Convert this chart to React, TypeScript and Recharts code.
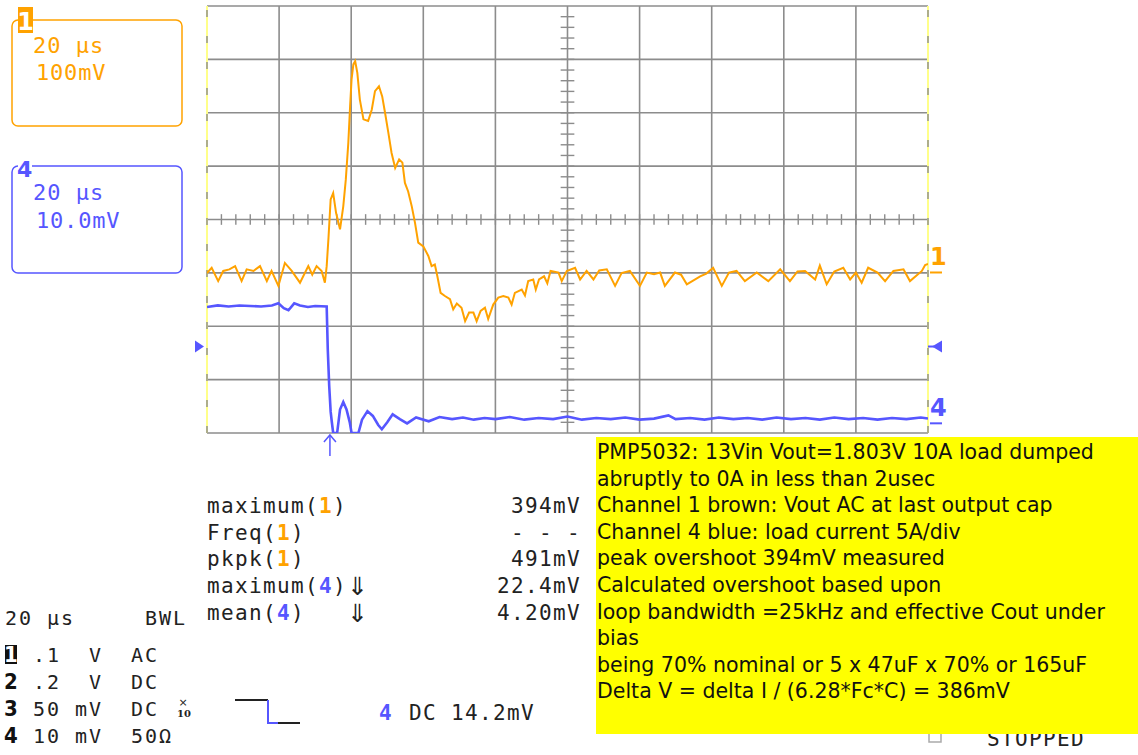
import React from 'react';
import { LineChart, Line, XAxis, YAxis, ReferenceLine, ReferenceDot } from 'recharts';

// time base 20 µs/div, 10 divisions across; 8 divisions high
const majorTimes = [20, 40, 60, 80, 100, 120, 140, 160, 180];
const majorDivs = [-4, -3, -2, -1, 0, 1, 2, 3, 4];
const minorTimes = Array.from({ length: 49 }, (_, i) => (i + 1) * 4);
const minorDivs = Array.from({ length: 39 }, (_, i) => -3.8 + i * 0.2);

// channel 1 (Vout AC), mV, 100 mV/div; screen centre sits 97.4 mV above its zero marker
const ch1Center = 97.4;
const ch1PerDiv = 100;
const ch1Trace = [
  { t: 0, mv: -3 }, { t: 1.3, mv: 7 }, { t: 3.1, mv: -18 }, { t: 4.5, mv: 1 }, { t: 6.2, mv: 4 },
  { t: 7.8, mv: 10 }, { t: 9.6, mv: -18 }, { t: 11.0, mv: 4 }, { t: 12.9, mv: 1 }, { t: 14.7, mv: 10 },
  { t: 16.6, mv: -18 }, { t: 17.9, mv: 1 }, { t: 19.8, mv: -27 }, { t: 21.6, mv: 16 }, { t: 23.5, mv: 1 },
  { t: 25.8, mv: -21 }, { t: 28.1, mv: 10 }, { t: 29.2, mv: -6 }, { t: 30.4, mv: 10 }, { t: 31.8, mv: 1 },
  { t: 32.7, mv: -21 }, { t: 33.2, mv: 10 }, { t: 33.7, mv: 63 }, { t: 34.3, mv: 135 }, { t: 35.0, mv: 147 },
  { t: 35.8, mv: 110 }, { t: 36.9, mv: 79 }, { t: 37.8, mv: 122 }, { t: 38.5, mv: 172 }, { t: 39.2, mv: 241 },
  { t: 39.7, mv: 310 }, { t: 40.1, mv: 360 }, { t: 40.6, mv: 388 }, { t: 41.1, mv: 394 }, { t: 41.7, mv: 372 },
  { t: 42.4, mv: 322 }, { t: 43.4, mv: 285 }, { t: 44.7, mv: 282 }, { t: 45.7, mv: 303 }, { t: 46.6, mv: 338 },
  { t: 47.7, mv: 347 }, { t: 48.6, mv: 328 }, { t: 49.4, mv: 297 }, { t: 50.3, mv: 260 }, { t: 51.2, mv: 222 },
  { t: 52.2, mv: 194 }, { t: 53.3, mv: 210 }, { t: 54.2, mv: 204 }, { t: 54.9, mv: 166 }, { t: 55.8, mv: 150 },
  { t: 56.8, mv: 122 }, { t: 57.7, mv: 91 }, { t: 58.6, mv: 54 }, { t: 60.0, mv: 47 }, { t: 61.4, mv: 29 },
  { t: 62.3, mv: 10 }, { t: 63.2, mv: 13 }, { t: 63.9, mv: -9 }, { t: 64.8, mv: -40 }, { t: 66.0, mv: -46 },
  { t: 67.4, mv: -52 }, { t: 68.3, mv: -71 }, { t: 69.3, mv: -60 }, { t: 70.6, mv: -68 }, { t: 71.6, mv: -93 },
  { t: 72.7, mv: -77 }, { t: 73.9, mv: -77 }, { t: 74.8, mv: -93 }, { t: 75.9, mv: -74 }, { t: 77.1, mv: -68 },
  { t: 78.0, mv: -89 }, { t: 79.4, mv: -62 }, { t: 80.8, mv: -49 }, { t: 82.2, mv: -46 }, { t: 83.6, mv: -49 },
  { t: 84.5, mv: -62 }, { t: 85.4, mv: -40 }, { t: 87.3, mv: -34 }, { t: 88.2, mv: -45 }, { t: 89.1, mv: -18 },
  { t: 90.5, mv: -15 }, { t: 91.2, mv: -34 }, { t: 92.1, mv: -15 }, { t: 93.5, mv: -9 }, { t: 94.4, mv: -22 },
  { t: 95.3, mv: 1 }, { t: 97.5, mv: -2 }, { t: 98.4, mv: -18 }, { t: 99.8, mv: 1 }, { t: 102.1, mv: 7 },
  { t: 103.5, mv: -15 }, { t: 105.3, mv: 1 }, { t: 107.2, mv: -15 }, { t: 108.8, mv: 2 }, { t: 110.9, mv: 4 },
  { t: 113.2, mv: -27 }, { t: 115.0, mv: -3 }, { t: 117.3, mv: 1 }, { t: 120.1, mv: -27 }, { t: 122.0, mv: -2 },
  { t: 124.0, mv: -5 }, { t: 125.7, mv: -2 }, { t: 127.0, mv: -27 }, { t: 129.8, mv: -2 }, { t: 131.5, mv: -6 },
  { t: 133.1, mv: -24 }, { t: 136.8, mv: -9 }, { t: 138.5, mv: -4 }, { t: 140.4, mv: 7 }, { t: 142.8, mv: -27 },
  { t: 144.8, mv: -2 }, { t: 146.9, mv: 1 }, { t: 149.2, mv: -18 }, { t: 152.5, mv: -2 }, { t: 155.7, mv: -18 },
  { t: 159.0, mv: 4 }, { t: 161.7, mv: -18 }, { t: 163.8, mv: 0 }, { t: 165.9, mv: 1 }, { t: 168.7, mv: -15 },
  { t: 170.0, mv: 11 }, { t: 171.9, mv: -24 }, { t: 174.0, mv: 0 }, { t: 176.5, mv: 7 }, { t: 178.4, mv: -15 },
  { t: 180.0, mv: -2 }, { t: 181.6, mv: -21 }, { t: 183.4, mv: 7 }, { t: 186.0, mv: -2 }, { t: 188.1, mv: -18 },
  { t: 190.4, mv: 1 }, { t: 193.2, mv: 4 }, { t: 195.0, mv: -18 }, { t: 198.3, mv: 1 }, { t: 199.2, mv: 12 },
  { t: 200, mv: 14 },
];

// channel 4 (load current), mV, 10 mV/div; screen centre sits 38 mV above its zero marker
const ch4Center = 38.0;
const ch4Trace = [
  { t: 0, mv: 21.6 }, { t: 3, mv: 21.9 }, { t: 6, mv: 21.7 }, { t: 9, mv: 21.9 }, { t: 12, mv: 21.8 },
  { t: 15, mv: 21.7 }, { t: 18, mv: 21.9 }, { t: 19.8, mv: 22.3 }, { t: 21.3, mv: 21.4 }, { t: 22.6, mv: 21.0 },
  { t: 24.2, mv: 22.3 }, { t: 25.8, mv: 21.9 }, { t: 28, mv: 21.6 }, { t: 30, mv: 21.8 }, { t: 33.2, mv: 21.7 },
  { t: 33.5, mv: 13.7 }, { t: 33.9, mv: 6.8 }, { t: 34.3, mv: 2.0 }, { t: 34.6, mv: 0.2 }, { t: 35.0, mv: -2 },
  { t: 36.1, mv: -2 }, { t: 36.9, mv: 2.4 }, { t: 37.8, mv: 3.8 }, { t: 38.7, mv: 2.4 }, { t: 39.6, mv: 0 },
  { t: 40.1, mv: -2 }, { t: 42.0, mv: -2 }, { t: 43.0, mv: 0.5 }, { t: 44.5, mv: 2.1 }, { t: 46.0, mv: 1.2 },
  { t: 47.5, mv: -0.5 }, { t: 48.5, mv: -1.3 }, { t: 50.0, mv: 0 }, { t: 51.5, mv: 1.5 }, { t: 53.5, mv: 0.6 },
  { t: 55.5, mv: -0.2 }, { t: 58, mv: 0.9 }, { t: 61.5, mv: 0.2 }, { t: 64.5, mv: 1.0 }, { t: 68, mv: 0.6 },
  { t: 71, mv: 0.9 }, { t: 74, mv: 0.5 }, { t: 77, mv: 0.8 }, { t: 80, mv: 0.6 }, { t: 84, mv: 1.0 },
  { t: 88, mv: 0.5 }, { t: 92, mv: 0.8 }, { t: 96, mv: 0.6 }, { t: 100, mv: 1.1 }, { t: 104, mv: 0.5 },
  { t: 108, mv: 0.8 }, { t: 112, mv: 0.6 }, { t: 116, mv: 0.9 }, { t: 120, mv: 0.5 }, { t: 124, mv: 0.7 },
  { t: 128, mv: 1.3 }, { t: 130, mv: 0.6 }, { t: 134, mv: 0.8 }, { t: 138, mv: 0.5 }, { t: 142, mv: 0.9 },
  { t: 146, mv: 0.6 }, { t: 150, mv: 0.8 }, { t: 154, mv: 0.5 }, { t: 158, mv: 0.9 }, { t: 162, mv: 0.6 },
  { t: 166, mv: 0.8 }, { t: 170, mv: 0.5 }, { t: 174, mv: 0.9 }, { t: 178, mv: 0.6 }, { t: 182, mv: 0.8 },
  { t: 186, mv: 0.5 }, { t: 190, mv: 0.8 }, { t: 194, mv: 0.6 }, { t: 198, mv: 0.9 }, { t: 200, mv: 0.7 },
];

const triggerTime = 34.1;
const triggerLevel = 14.2;

const measureNames = ['maximum', 'Freq', 'pkpk', 'maximum', 'mean'];
const measureChannels = [1, 1, 1, 4, 4];
const measureArrows = [false, false, false, true, true];
const measureValues = ['394mV', '- - -', '491mV', '22.4mV', '4.20mV'];

const timebaseRow = '20 µs     BWL';
const channelRows = [
  { ch: '1', text: ' .1  V  AC' },
  { ch: '2', text: ' .2  V  DC' },
  { ch: '3', text: ' 50 mV  DC' },
  { ch: '4', text: ' 10 mV  50Ω' },
];

const notes = [
  'PMP5032: 13Vin Vout=1.803V 10A load dumped',
  'abruptly to 0A in less than 2usec',
  'Channel 1 brown: Vout AC at last output cap',
  'Channel 4 blue: load current 5A/div',
  'peak overshoot 394mV measured',
  'Calculated overshoot based upon',
  'loop bandwidth =25kHz and effective Cout under',
  'bias',
  'being 70% nominal or 5 x 47uF x 70% or 165uF',
  'Delta V = delta I / (6.28*Fc*C) = 386mV',
];

const ORANGE = '#ffa200';
const BLUE = '#5656ff';
const GRID = '#8c8c8c';
const MONO = '"DejaVu Sans Mono", monospace';

const div = (d: number) => ch1Center + d * ch1PerDiv;
const keepSpaces = (s: string) => s.replace(/ /g, '\u00a0');

const chMarker = (label: string, color: string) => (p: any) => (
  <g>
    <text x={p.cx + 2} y={p.cy - 6} fill={color} fontFamily="DejaVu Sans" fontWeight="bold" fontSize={24}>{label}</text>
    <line x1={p.cx + 2} x2={p.cx + 14} y1={p.cy + 1} y2={p.cy + 1} stroke={color} strokeWidth={2} />
  </g>
);

export default function App() {
  return (
    <div style={{ position: 'absolute', left: 0, top: 0, width: 1138, height: 755, background: '#fff', overflow: 'hidden' }}>
      <svg width={1138} height={755} style={{ position: 'absolute', left: 0, top: 0 }}>
        {/* channel boxes */}
        <rect x={12} y={20} width={170} height={106} rx={6} fill="none" stroke={ORANGE} strokeWidth={1.5} />
        <rect x={18} y={7} width={15} height={26} fill={ORANGE} />
        <text x={25.5} y={30} textAnchor="middle" fill="#fff" fontFamily="DejaVu Sans" fontWeight="bold" fontSize={24}>1</text>
        <text x={33} y={53} fill={ORANGE} fontFamily={MONO} fontSize={22} letterSpacing={1}>{keepSpaces('20 µs')}</text>
        <text x={36} y={80} fill={ORANGE} fontFamily={MONO} fontSize={22} letterSpacing={0.8}>100mV</text>

        <rect x={12} y={166} width={170} height={107} rx={6} fill="none" stroke={BLUE} strokeWidth={1.5} />
        <rect x={18} y={160} width={14} height={16} fill="#fff" />
        <text x={17} y={177} fill={BLUE} fontFamily="DejaVu Sans" fontWeight="bold" fontSize={22}>4</text>
        <text x={33} y={200} fill={BLUE} fontFamily={MONO} fontSize={22} letterSpacing={1}>{keepSpaces('20 µs')}</text>
        <text x={36} y={228} fill={BLUE} fontFamily={MONO} fontSize={22} letterSpacing={0.8}>10.0mV</text>

        {/* measurements */}
        {measureNames.map((n, i) => {
          const y = 513 + i * 26.7;
          const c = measureChannels[i] === 1 ? ORANGE : BLUE;
          return (
            <g key={i} fontFamily={MONO} fontSize={21} letterSpacing={1.36} fill="#222">
              <text x={207} y={y}>
                {n}(<tspan fill={c} fontWeight="bold">{measureChannels[i]}</tspan>)
              </text>
              {measureArrows[i] && <text x={347} y={y + 2} fontFamily="DejaVu Sans" fontSize={25} letterSpacing={0}>⇓</text>}
              <text x={581} y={y} textAnchor="end">{keepSpaces(measureValues[i])}</text>
            </g>
          );
        })}

        {/* timebase / channel settings */}
        <g fontFamily={MONO} fontSize={20} letterSpacing={1.95} fill="#222">
          <text x={5} y={625}>{keepSpaces(timebaseRow)}</text>
          {channelRows.map((r, i) => (
            <text key={i} x={19} y={662 + i * 27}>{keepSpaces(r.text)}</text>
          ))}
        </g>
        <rect x={5} y={645} width={12} height={19} fill="#111" />
        {channelRows.map((r, i) => (
          <text key={i} x={11} y={662 + i * 27} textAnchor="middle" fill={i === 0 ? '#fff' : '#111'}
            fontFamily="DejaVu Sans Condensed" fontWeight="bold" fontSize={22}>{r.ch}</text>
        ))}
        <text x={183} y={706} textAnchor="middle" fontFamily="DejaVu Sans" fontSize={11} fill="#222">×</text>
        <text x={184} y={717} textAnchor="middle" fontFamily="DejaVu Serif" fontWeight="bold" fontSize={10} fill="#222">10</text>

        {/* trigger icon */}
        <polyline points="235,700 268,700" fill="none" stroke="#222" strokeWidth={2} />
        <polyline points="268,700 268,723 278,723" fill="none" stroke={BLUE} strokeWidth={2} />
        <polyline points="278,723 300,723" fill="none" stroke="#222" strokeWidth={2} />
        <text x={379} y={720} fill={BLUE} fontFamily={MONO} fontWeight="bold" fontSize={21}>4</text>
        <text x={409} y={720} fill="#222" fontFamily={MONO} fontSize={21} letterSpacing={1.36}>{keepSpaces('DC 14.2mV')}</text>

        {/* stopped status, partly hidden */}
        <rect x={929} y={730} width={12} height={12} fill="#fff" stroke="#aaa" strokeWidth={1.5} />
        <text x={987} y={746} fill="#222" fontFamily={MONO} fontSize={21} letterSpacing={1.36}>STOPPED</text>

        {/* notes */}
        <rect x={596} y={437} width={542} height={297} fill="#ffff00" />
        {notes.map((line, i) => (
          <text key={i} x={597} y={459 + i * 26.6} fill="#111" fontFamily="DejaVu Sans" fontSize={20.5}>{line}</text>
        ))}
      </svg>

      <div style={{ position: 'absolute', left: 0, top: 0 }}>
        <LineChart width={1138} height={755} margin={{ top: 6, right: 210, bottom: 322, left: 207 }}>
          <XAxis type="number" dataKey="t" domain={[0, 200]} hide allowDataOverflow />
          <YAxis yAxisId="ch1" type="number" domain={[div(-4), div(4)]} hide allowDataOverflow />
          <YAxis yAxisId="ch4" type="number" domain={[ch4Center - 40, ch4Center + 40]} hide allowDataOverflow />

          {majorTimes.map(t => (
            <ReferenceLine key={'vt' + t} yAxisId="ch1" x={t} stroke={GRID} strokeWidth={1.6} />
          ))}
          {majorDivs.map(d => (
            <ReferenceLine key={'hd' + d} yAxisId="ch1" y={div(d)} stroke={GRID} strokeWidth={1.6} />
          ))}
          {minorTimes.map(t => (
            <ReferenceLine key={'mt' + t} yAxisId="ch1" segment={[{ x: t, y: div(-0.1) }, { x: t, y: div(0.1) }]} stroke={GRID} strokeWidth={1.4} />
          ))}
          {minorDivs.map(d => (
            <ReferenceLine key={'md' + d} yAxisId="ch1" segment={[{ x: 98.1, y: div(d) }, { x: 101.9, y: div(d) }]} stroke={GRID} strokeWidth={1.4} />
          ))}
          {[0, 200].map(t => (
            <ReferenceLine key={'edge' + t} yAxisId="ch1" x={t} stroke="#ffff8a" strokeWidth={2} />
          ))}
          {[0, 200].map(t => (
            <ReferenceLine key={'edged' + t} yAxisId="ch1" x={t} stroke={GRID} strokeWidth={1.4} strokeDasharray="7 19" />
          ))}

          <Line yAxisId="ch1" data={ch1Trace} dataKey="mv" type="linear" stroke={ORANGE} strokeWidth={2}
            dot={false} isAnimationActive={false} />
          <Line yAxisId="ch4" data={ch4Trace} dataKey="mv" type="linear" stroke={BLUE} strokeWidth={2.6}
            dot={false} isAnimationActive={false} />

          <ReferenceDot yAxisId="ch1" x={200} y={0} r={0} shape={chMarker('1', ORANGE)} />
          <ReferenceDot yAxisId="ch4" x={200} y={0} r={0} shape={chMarker('4', BLUE)} />
          <ReferenceDot yAxisId="ch4" x={0} y={triggerLevel} shape={(p: any) => (
            <path d={`M${p.cx - 12},${p.cy - 6} L${p.cx - 3},${p.cy} L${p.cx - 12},${p.cy + 6} Z`} fill={BLUE} />
          )} />
          <ReferenceDot yAxisId="ch4" x={200} y={triggerLevel} shape={(p: any) => (
            <g>
              <line x1={p.cx} x2={p.cx + 6} y1={p.cy} y2={p.cy} stroke={BLUE} strokeWidth={2} />
              <path d={`M${p.cx + 14},${p.cy - 6} L${p.cx + 4},${p.cy} L${p.cx + 14},${p.cy + 6} Z`} fill={BLUE} />
            </g>
          )} />
          <ReferenceDot yAxisId="ch1" x={triggerTime} y={div(-4)} shape={(p: any) => (
            <g stroke={BLUE} strokeWidth={1.5} fill="none">
              <line x1={p.cx} x2={p.cx} y1={p.cy + 2} y2={p.cy + 23} />
              <polyline points={`${p.cx - 6},${p.cy + 9} ${p.cx},${p.cy + 2} ${p.cx + 6},${p.cy + 9}`} />
            </g>
          )} />
        </LineChart>
      </div>
    </div>
  );
}
